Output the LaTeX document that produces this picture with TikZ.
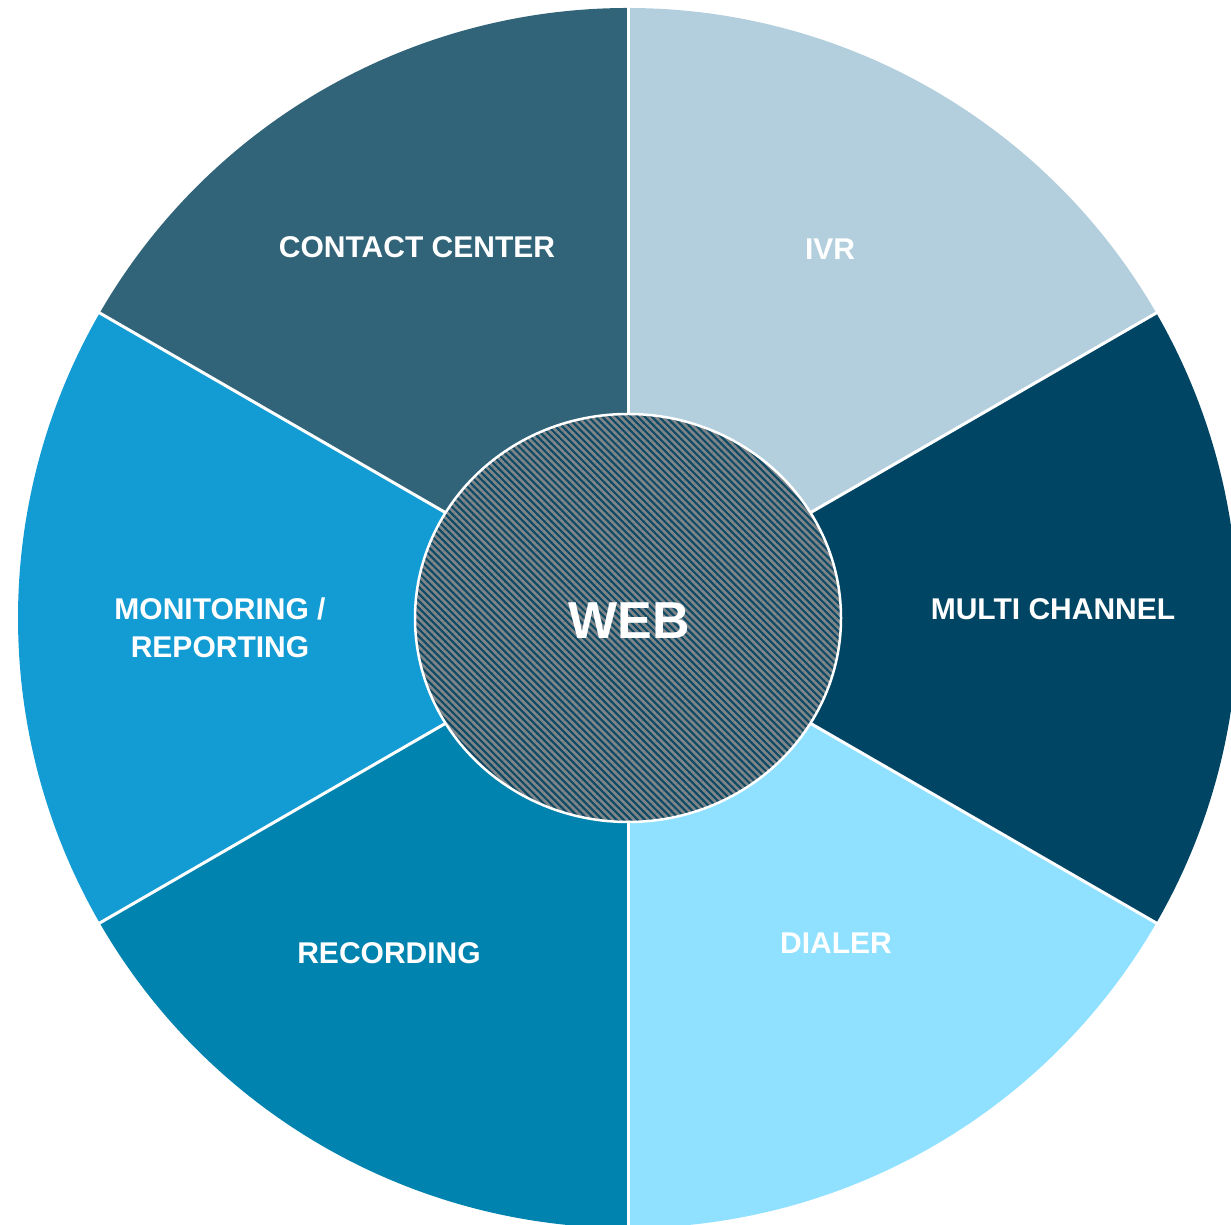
\documentclass[tikz,border=0pt]{standalone}
\usepackage{fontspec}
\setmainfont{Liberation Sans}
\usepackage{tikz}
\usetikzlibrary{patterns.meta}
\definecolor{ivrblue}{HTML}{B3CFDD}
\definecolor{multinavy}{HTML}{004563}
\definecolor{dialercyan}{HTML}{8FE1FF}
\definecolor{recblue}{HTML}{0083AE}
\definecolor{monblue}{HTML}{139CD4}
\definecolor{contactteal}{HTML}{316478}
\definecolor{webteal}{HTML}{0E4A64}
\definecolor{webgray}{HTML}{80858A}
\begin{document}
\begin{tikzpicture}[x=1pt,y=1pt]
		\tikzstyle{every node} = [font = \bfseries\fontsize{30}{38}\selectfont, text = white, align = center]
		\tikzstyle{webtext} = [font = \bfseries\fontsize{52}{60}\selectfont]
				\useasboundingbox (0,0) rectangle (1231,1225);
				\clip (0,0) rectangle (1231,1225);
				\coordinate (c) at (628,607);
				\foreach \a/\b/\col in {90/30/ivrblue, 30/-30/multinavy, -30/-90/dialercyan,
					-90/-150/recblue, -150/-210/monblue, 150/90/contactteal}
					\path[fill=\col] (c)-- ++(\a:610)
						arc[start angle=\a, end angle=\b, radius=610]--cycle;
				\foreach \a in {90,30,-30,-90,-150,150}
					\path[draw,white,line width=3] (c)-- ++(\a:620);
				\path[fill=webteal] (c) ellipse [x radius=213, y radius=204];
				\path[pattern={Lines[angle=-45,distance=5pt,line width=2.6pt]},
					pattern color=webgray] (c) ellipse [x radius=213, y radius=204];
				\path[draw,white,line width=2.5] (c) ellipse [x radius=213, y radius=204];
				\node (contact) at (417,978) {CONTACT CENTER};
				\node (ivr) at (830,976) {IVR};
				\node (multi) at (1053,616) {MULTI CHANNEL};
				\node (dialer) at (836,282) {DIALER};
				\node (rec) at (389,272) {RECORDING};
				\node (mon) at (220,597) {MONITORING /\\REPORTING};
				\node[webtext] (web) at (629,604) {WEB};
	\end{tikzpicture}
\end{document}
